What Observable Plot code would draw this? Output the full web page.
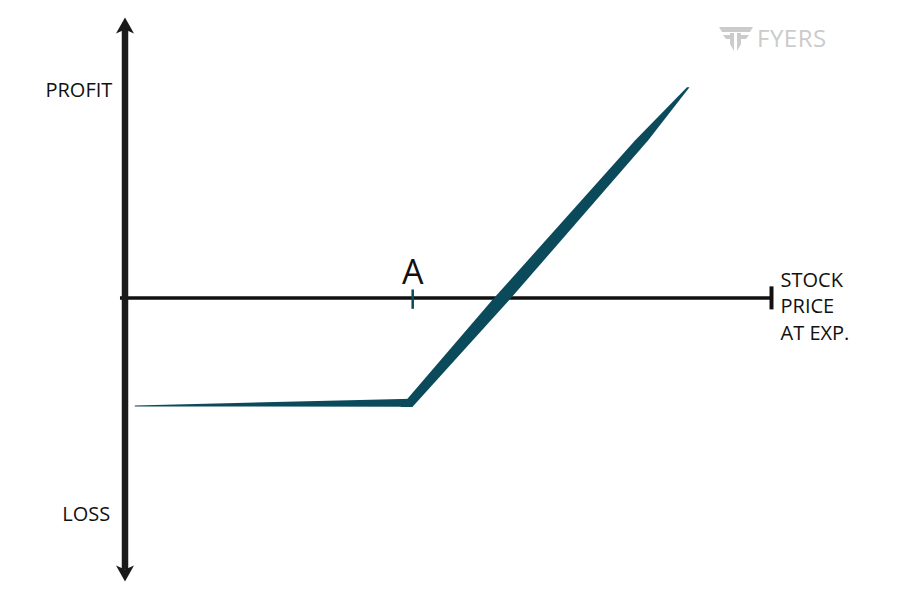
<!DOCTYPE html>
<html>
<head>
<meta charset="utf-8">
<script src="https://cdn.jsdelivr.net/npm/d3@7"></script>
<script src="https://cdn.jsdelivr.net/npm/@observablehq/plot@0.6"></script>
<style>
  html, body { margin: 0; padding: 0; background: #fff; }
  #wrap { position: relative; width: 899px; height: 600px; }
  #logo { position: absolute; left: 718px; top: 24px; display: flex; align-items: center; }
  #logo span { font-family: "Open Sans", sans-serif; font-size: 24px; color: #cbcbcb; letter-spacing: 0.5px; margin-left: 3px; line-height: 1; }
</style>
</head>
<body>
<div id="wrap">
  <div id="chart"></div>
  <div id="logo">
    <svg width="36" height="28" viewBox="0 0 36 28">
      <g fill="#cbcbcb">
        <polygon points="1,3 35,3 32,8 4,8"/>
        <polygon points="5,11 15,11 15,15 8,15"/>
        <polygon points="20,11 31,11 28,15 20,15"/>
        <polygon points="12,9 16,9 16,27 12,20"/>
        <polygon points="19,9 23,9 23,20 19,27"/>
      </g>
    </svg>
    <span>FYERS</span>
  </div>
</div>
<script>
// ---- data (price axis 0..100, profit axis -101..100) ----
const flatPrice  = [1.6, 44.5];               // loss plateau (premium paid)
const flatProfit = [-38.6, -37.5];
const risePrice  = [43.6, 58.2, 80.0, 87.2];  // rising leg above strike
const riseProfit = [-39.0, -0.9, 56.1, 75.0];
const strike = 44.5;
const strikeLabel = "A";
const yLabels = ["PROFIT", "LOSS"];
const xLabel = "STOCK\nPRICE\nAT EXP.";

// ---- styles ----
const teal = "#0b4a5b";
const ink = "#1a1a1a";
const flatWidthPx = [1, 8];
const riseWidthPx = [12, 17, 13, 2.5];

const W = 899, H = 600;
const mL = 124.5, mR = 128, mT = 17, mB = 19;
const xDom = [0, 100], yDom = [-101, 100];
const pxPerX = (W - mL - mR) / (xDom[1] - xDom[0]);
const pxPerY = (H - mT - mB) / (yDom[1] - yDom[0]);

const arrowHead = {
  draw(ctx) {
    ctx.moveTo(0, 0);
    ctx.lineTo(9, 16);
    ctx.lineTo(0, 12);
    ctx.lineTo(-9, 16);
    ctx.closePath();
  }
};

const flatIdx = d3.range(flatPrice.length);
const riseIdx = d3.range(risePrice.length);

const chart = Plot.plot({
  width: W, height: H,
  marginLeft: mL, marginRight: mR, marginTop: mT, marginBottom: mB,
  x: {domain: xDom, axis: null},
  y: {domain: yDom, axis: null},
  style: {fontFamily: "'Open Sans', sans-serif", background: "#fff", overflow: "visible"},
  marks: [
    // horizontal axis (stock price at expiry)
    Plot.ruleY([0], {x1: -0.7, x2: 100, stroke: "#111", strokeWidth: 3.5}),
    Plot.ruleX([100], {y1: 4.0, y2: -4.2, stroke: "#111", strokeWidth: 4}),
    // vertical axis (profit / loss) with arrowheads
    Plot.ruleX([0], {y1: -97, y2: 96, stroke: ink, strokeWidth: 6.5}),
    Plot.dot([yDom[1]], {x: 0, y: d => d, symbol: arrowHead, fill: ink, stroke: "none"}),
    Plot.dot([yDom[0]], {x: 0, y: d => d, symbol: arrowHead, fill: ink, stroke: "none", rotate: 180}),
    // strike tick
    Plot.ruleX([strike], {y1: 2.9, y2: -4.0, stroke: teal, strokeWidth: 2.5}),
    Plot.text([strikeLabel], {x: strike, y: 9.0, text: d => d, fontSize: 34, fill: "#111", fontFamily: "'Open Sans', sans-serif"}),
    // payoff
    Plot.areaY(flatIdx, {
      x: i => flatPrice[i],
      y1: i => flatProfit[i] - flatWidthPx[i] / 2 / pxPerY,
      y2: i => flatProfit[i] + flatWidthPx[i] / 2 / pxPerY,
      fill: teal
    }),
    Plot.areaX(riseIdx, {
      y: i => riseProfit[i],
      x1: i => risePrice[i] - riseWidthPx[i] / 2 / pxPerX,
      x2: i => risePrice[i] + riseWidthPx[i] / 2 / pxPerX,
      fill: teal
    }),
    // axis labels
    Plot.text([yLabels[0]], {x: -12.3, y: 73.8, text: d => d, textAnchor: "start", fontSize: 20, fill: "#111"}),
    Plot.text([yLabels[1]], {x: -9.7, y: -77.3, text: d => d, textAnchor: "start", fontSize: 20, fill: "#111"}),
    Plot.text([xLabel], {x: 101.4, y: -2.4, text: d => d, textAnchor: "start", fontSize: 20, lineHeight: 1.32, fill: "#111"})
  ]
});
document.getElementById("chart").appendChild(chart);
</script>
</body>
</html>
